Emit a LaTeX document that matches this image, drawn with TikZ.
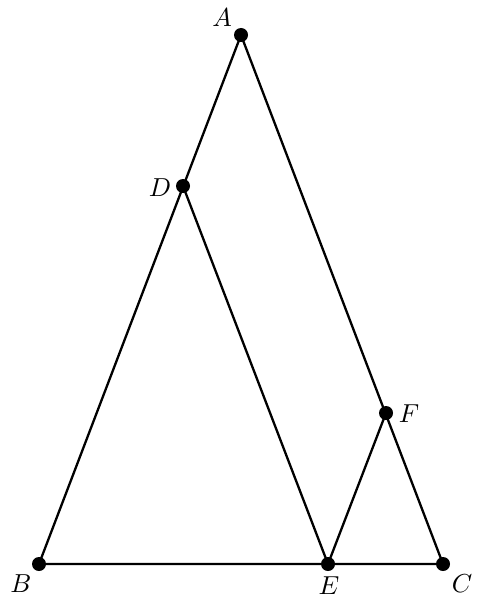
\documentclass[tikz,border=0pt]{standalone}
\usepackage{graphicx}
\begin{document}
\begin{tikzpicture}[x=1pt,y=-1pt,
  pt/.style={circle,fill=black,inner sep=0pt,minimum size=14pt},
  lbl/.style={inner sep=0pt},
  seg/.style={line width=2.3pt}]
\useasboundingbox (0,0) rectangle (484,604);
\newcommand\lab[1]{\scalebox{2.6}{$#1$}}
\node[pt] (A) at (241,35) {};
\node[pt] (B) at (39,564) {};
\node[pt] (C) at (443,564) {};
\node[pt] (D) at (183,186) {};
\node[pt] (E) at (328,564) {};
\node[pt] (F) at (386,413) {};
\draw[seg] (A.center) -- (B.center) -- (C.center) -- cycle;
\draw[seg] (D.center) -- (E.center) -- (F.center);
\node[lbl] (lA) at (222,18) {\lab{A}};
\node[lbl] (lB) at (21,584) {\lab{B}};
\node[lbl] (lC) at (462,584) {\lab{C}};
\node[lbl] (lD) at (160,188) {\lab{D}};
\node[lbl] (lE) at (329,586) {\lab{E}};
\node[lbl] (lF) at (409,414) {\lab{F}};
\end{tikzpicture}
\end{document}
